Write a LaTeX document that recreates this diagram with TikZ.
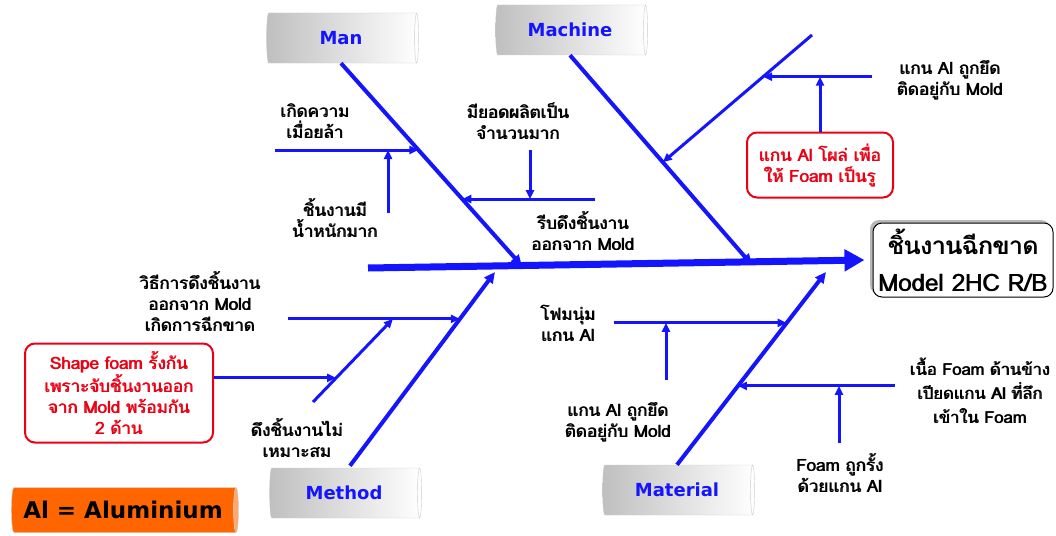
\documentclass[tikz,border=0pt]{standalone}
\usepackage{fontspec}
\newfontfamily\thai[Script=Thai]{Loma}
\newfontfamily\dejavu{DejaVu Sans}
\usetikzlibrary{arrows.meta,calc,positioning,shapes.geometric,shadows}

% Loma has no bold face: print each line twice, slightly shifted
\newcommand\fat[1]{\rlap{#1}\kern0.8pt#1}

\definecolor{boneblue}{RGB}{20,20,255}
\definecolor{causered}{RGB}{235,0,20}
\definecolor{alorange}{RGB}{255,102,0}
\definecolor{alend}{RGB}{255,168,110}

\tikzset{
  spine/.style={draw=boneblue, line width=7pt, -{Triangle[length=20pt,width=21pt]}},
  bone/.style={draw=boneblue, line width=4pt, -{Triangle[length=11pt,width=10pt]}},
  twig/.style={draw=boneblue, line width=3pt, -{Triangle[length=9pt,width=8pt]}},
  lbl/.style={font=\thai\fontsize{17}{21}\selectfont, align=center, inner sep=0pt},
  redbox/.style={lbl, text=causered, draw=causered, line width=2pt, rounded corners=10pt, fill=white},
  barrel/.style={cylinder, aspect=0.2, minimum height=152pt, minimum width=50pt,
    left color=gray!50, right color=white, draw=gray!40,
    font=\dejavu\bfseries\fontsize{18}{18}\selectfont, text=boneblue},
  effectbox/.style={draw=black, line width=1pt, rounded corners=9pt, fill=white,
    minimum width=180pt, minimum height=74pt, align=center, inner sep=0pt,
    font=\thai\fontsize{24}{37}\selectfont,
    drop shadow={shadow xshift=-3pt, shadow yshift=3pt, fill=gray!70, opacity=0.8}}
}

\begin{document}
\begin{tikzpicture}[x=1pt, y=-1pt]

\useasboundingbox (0,0) rectangle (1056,535);

\node[effectbox] (effect) at (963,260) {\fat{ชิ้นงานฉีกขาด}\\\fat{Model 2HC R/B}};

\node[barrel] (man) at (341,38) {Man};
\node[barrel] (mac) at (570,30) {Machine};
\node[barrel] (meth) at (344,493) {Method};
\node[barrel] (mat) at (677,490) {Material};

\node[cylinder, aspect=0.2, minimum height=227pt, minimum width=45pt, draw=gray!40,
  cylinder uses custom fill, cylinder body fill=alorange, cylinder end fill=alend,
  font=\dejavu\bfseries\fontsize{23}{23}\selectfont] (al) at (123,510) {Al = Aluminium};

% main spine
\coordinate (tail) at (368,268);
\draw[spine] (tail) -- ($(effect.west)+(-8,0)$);

\coordinate (mh) at (522,266);
\coordinate (ach) at (752,265);
\coordinate (meh) at (495,272);
\coordinate (mah) at (826,272);
\coordinate (mf) at ($(meth.north)+(6,-2)$);

\draw[bone] (man.south) -- (mh);
\draw[bone] (mac.south) -- (ach);
\draw[bone] (mf) -- (meh);
\draw[bone] (mat.north) -- (mah);

% Man
\coordinate (m1) at ($(man.south)!0.428!(mh)$);
\coordinate (m1s) at ($(m1)+(-143,0)$);
\draw[twig] (m1s) -- (m1);
\coordinate (m2s) at (388,213);
\draw[twig] (m2s) -- (m2s |- m1);

\coordinate (m3) at ($(man.south)!0.67!(mh)$);
\coordinate (m3s) at ($(m3)+(133,0)$);
\draw[twig] (m3s) -- (m3);
\coordinate (m4s) at (530,150);
\draw[twig] (m4s) -- (m4s |- m3);

\node[lbl] (tired) at (315,121) {\fat{เกิดความ}\\\fat{เมื่อยล้า}};
\node[lbl] (heavy) at (335,218) {\fat{ชิ้นงานมี}\\\fat{น้ำหนักมาก}};
\node[lbl] (volume) at (518,121) {\fat{มียอดผลิตเป็น}\\\fat{จำนวนมาก}};
\node[lbl] (rush) at (583,231) {\fat{รีบดึงชิ้นงาน}\\\fat{ออกจาก Mold}};

% Machine
\coordinate (a1) at ($(mac.south)!0.51!(ach)$);
\coordinate (a1s) at (812,35);
\draw[twig] (a1s) -- (a1);
\coordinate (a2) at ($(a1s)!0.328!(a1)$);
\coordinate (a2s) at ($(a2)+(109,0)$);
\draw[twig] (a2s) -- (a2);

\node[redbox, minimum width=146pt, minimum height=65pt] (poke) at (820,165)
  {\fat{แกน Al โผล่ เพื่อ}\\\fat{ให้ Foam เป็นรู}};
\draw[twig] (poke.north) -- (poke.north |- a2);

\node[lbl] (stuck) at (950,80) {\fat{แกน Al ถูกยึด}\\\fat{ติดอยู่กับ Mold}};

% Method
\coordinate (t1) at ($(mf)!0.758!(meh)$);
\coordinate (t1s) at ($(t1)+(-172,0)$);
\draw[twig] (t1s) -- (t1);
\coordinate (t2s) at (313,402);
\coordinate (t2) at ($(t1s)+(105,0)$);
\draw[twig] (t2s) -- (t2);
\coordinate (t3) at ($(t2s)!0.29!(t2)$);

\node[redbox, minimum width=188pt, minimum height=99pt] (shape) at (119,393)
  {\fat{Shape foam รั้งกัน}\\\fat{เพราะจับชิ้นงานออก}\\\fat{จาก Mold พร้อมกัน}\\\fat{2 ด้าน}};
\draw[twig] (shape.east |- t3) -- (t3);

\node[lbl] (pull) at (200,302) {\fat{วิธีการดึงชิ้นงาน}\\\fat{ออกจาก Mold}\\\fat{เกิดการฉีกขาด}};
\node[lbl] (improper) at (297,438) {\fat{ดึงชิ้นงานไม่}\\\fat{เหมาะสม}};

% Material
\coordinate (r1) at ($(mat.north)!0.736!(mah)$);
\coordinate (r1s) at ($(r1)+(-173,0)$);
\draw[twig] (r1s) -- (r1);
\coordinate (r2s) at (666,380);
\draw[twig] (r2s) -- (r2s |- r1);

\coordinate (r3) at ($(mat.north)!0.409!(mah)$);
\coordinate (r3s) at ($(r3)+(157,0)$);
\draw[twig] (r3s) -- (r3);
\coordinate (r4s) at (839,443);
\draw[twig] (r4s) -- (r4s |- r3);

\node[lbl] (soft) at (568,323) {\fat{โฟมนุ่ม}\\\fat{แกน Al}};
\node[lbl] (stuck2) at (618,422) {\fat{แกน Al ถูกยึด}\\\fat{ติดอยู่กับ Mold}};
\node[lbl, font=\thai\fontsize{16.5}{24}\selectfont] (side) at (980,391)
  {\fat{เนื้อ Foam ด้านข้าง}\\\fat{เปียดแกน Al ที่ลึก}\\\fat{เข้าใน Foam}};
\node[lbl] (held) at (840,473) {\fat{Foam ถูกรั้ง}\\\fat{ด้วยแกน Al}};

\end{tikzpicture}
\end{document}
